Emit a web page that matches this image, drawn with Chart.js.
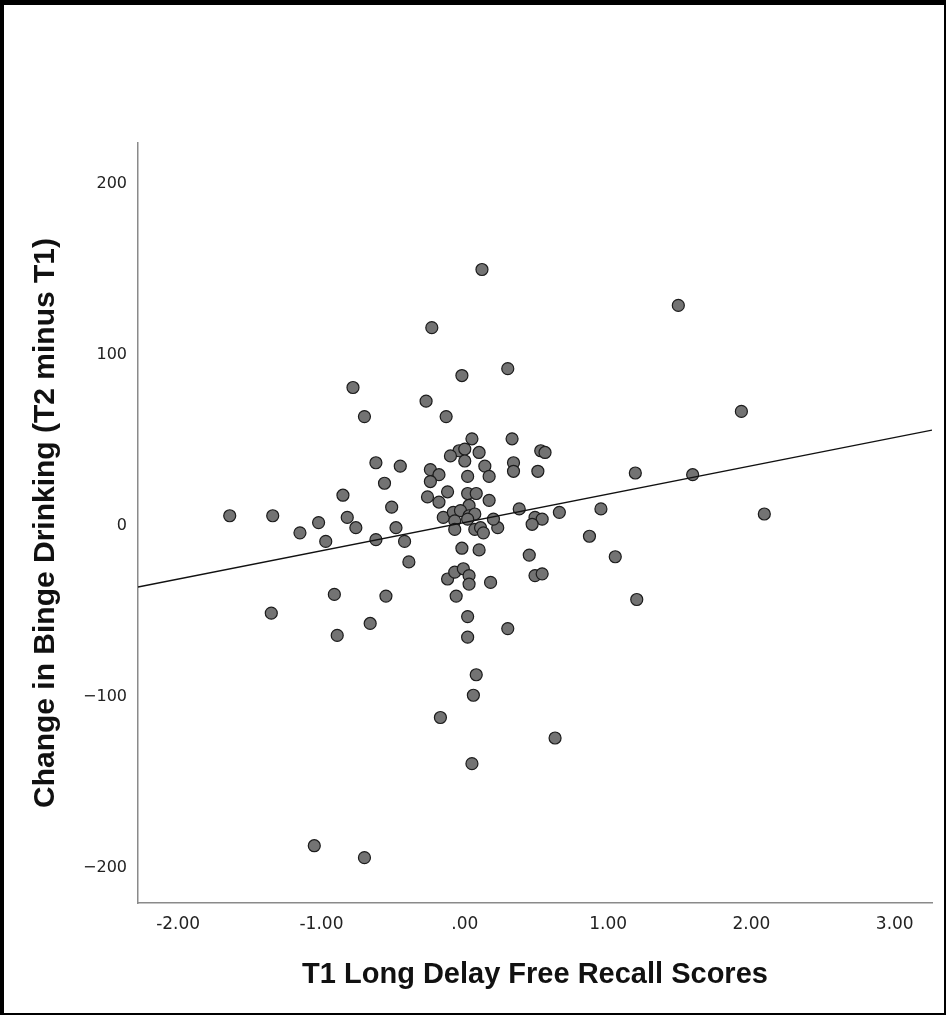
<!DOCTYPE html>
<html>
<head>
<meta charset="utf-8">
<script src="https://cdn.jsdelivr.net/npm/chart.js@4"></script>
<style>
  body { margin: 0; background: #fff; }
  #wrap { position: relative; width: 946px; height: 1015px; }
  #frame { position: absolute; left: 0; top: 0; width: 946px; height: 1015px; box-sizing: border-box;
           border-style: solid; border-color: #000; border-width: 5px 2px 2px 4px; pointer-events: none; }
</style>
</head>
<body>
<div id="wrap">
  <canvas id="scatterChart" width="946" height="1015"></canvas>
  <div id="frame"></div>
</div>
<script>
// T1 long delay free recall score (x) and change in binge drinking (y)
var recallScores = [
  0.12, -0.23, -0.02, 0.30, -0.78, -0.27, -0.70, -0.13, 0.05, 0.33,
  0.53, 0.56, -0.04, 0.00, -0.10, 0.10, -0.62, -0.45, 0.00, 0.14,
  0.34, 0.34, 0.51, -0.24, -0.18, -0.24, 0.02, 0.17, -0.56, -0.85,
  -0.12, 0.02, 0.08, -0.26, -0.18, 0.17, -0.51, 0.03, 0.38, 0.66,
  0.95, 1.19, 1.59, 1.49, 1.93, 2.09, -1.64, -1.34, -1.02, -0.82,
  -1.15, -0.97, -0.76, -0.62, -0.48, -0.42, -0.39, -0.15, -0.08, -0.03,
  0.03, 0.07, 0.02, -0.07, -0.07, 0.07, 0.11, 0.13, 0.23, 0.20,
  0.49, 0.54, 0.47, 0.87, -0.02, 0.10, 0.45, 1.05, -0.12, -0.07,
  -0.01, 0.03, 0.03, 0.18, 0.49, 0.54, -0.06, -0.91, -0.55, -1.35,
  -0.66, -0.89, 0.02, 0.02, 0.30, 1.20, 0.08, 0.06, -0.17, 0.05,
  0.63, -1.05, -0.70
];
var bingeChange = [
  150, 116, 88, 92, 81, 73, 64, 64, 51, 51,
  44, 43, 44, 45, 41, 43, 37, 35, 38, 35,
  37, 32, 32, 33, 30, 26, 29, 29, 25, 18,
  20, 19, 19, 17, 14, 15, 11, 12, 10, 8,
  10, 31, 30, 129, 67, 7, 6, 6, 2, 5,
  -4, -9, -1, -8, -1, -9, -21, 5, 8, 9,
  6, 7, 4, 3, -2, -2, -1, -4, -1, 4,
  5, 4, 1, -6, -13, -14, -17, -18, -31, -27,
  -25, -29, -34, -33, -29, -28, -41, -40, -41, -51,
  -57, -64, -53, -65, -60, -43, -87, -99, -112, -139,
  -124, -187, -194
];

// fit line end points, read at the plot edges
var fitX = [-2.28, 3.26];
var fitY = [-35.7, 56.1];

var xTicks = [-2, -1, 0, 1, 2, 3];
var yTicks = [-200, -100, 0, 100, 200];

var points = recallScores.map(function(x, i) {
    return { x: x, y: bingeChange[i] };
});
var fitLine = fitX.map(function(x, i) {
    return { x: x, y: fitY[i] };
});

var ctx = document.getElementById('scatterChart').getContext('2d');

var myChart = new Chart(ctx, {
    type: 'scatter',
    data: {
        datasets: [{
            data: points,
            backgroundColor: '#737373',
            borderColor: '#1c1c1c',
            borderWidth: 1.2,
            pointRadius: 6,
            order: 1
        }, {
            type: 'line',
            data: fitLine,
            borderColor: '#111111',
            borderWidth: 1.3,
            pointRadius: 0,
            fill: false,
            order: 0
        }]
    },
    options: {
        responsive: false,
        animation: false,
        layout: { padding: { top: 143, right: 14, bottom: 0, left: 0 } },
        plugins: {
            legend: { display: false },
            tooltip: { enabled: false }
        },
        scales: {
            x: {
                type: 'linear',
                min: -2.28,
                max: 3.26,
                grid: { display: false, drawTicks: false },
                border: { color: '#8a8a8a', width: 1.5 },
                afterBuildTicks: function(scale) {
                    scale.ticks = xTicks.map(function(v) { return { value: v }; });
                },
                afterFit: function(scale) { scale.height = 112; },
                ticks: {
                    padding: 11,
                    color: '#222',
                    font: { family: 'DejaVu Sans', size: 17 },
                    callback: function(v) { return v === 0 ? '.00' : v.toFixed(2); }
                },
                title: {
                    display: true,
                    text: 'T1 Long Delay Free Recall Scores',
                    color: '#111',
                    font: { family: 'Liberation Sans', size: 29, weight: 'bold' },
                    padding: { bottom: 23 }
                }
            },
            y: {
                type: 'linear',
                min: -220.5,
                max: 224,
                grid: { display: false, drawTicks: false },
                border: { color: '#8a8a8a', width: 1.5 },
                afterBuildTicks: function(scale) {
                    scale.ticks = yTicks.map(function(v) { return { value: v }; });
                },
                afterFit: function(scale) { scale.width = 138; },
                ticks: {
                    padding: 11,
                    color: '#222',
                    font: { family: 'DejaVu Sans', size: 16 },
                    callback: function(v) { return v < 0 ? '\u2212' + Math.abs(v) : String(v); }
                },
                title: {
                    display: true,
                    text: 'Change in Binge Drinking (T2 minus T1)',
                    color: '#111',
                    font: { family: 'Liberation Sans', size: 30, weight: 'bold' },
                    padding: { top: 28 }
                }
            }
        }
    }
});
</script>
</body>
</html>
